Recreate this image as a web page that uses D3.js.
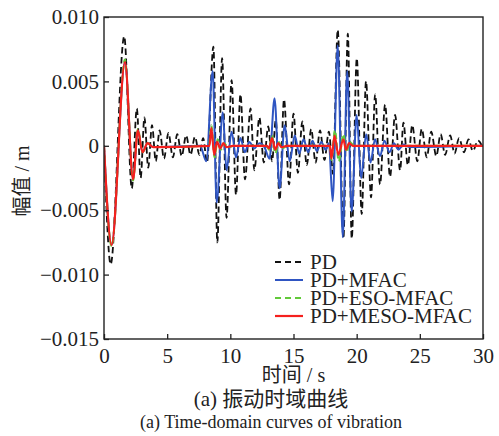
<!DOCTYPE html>
<html>
<head>
<meta charset="utf-8">
<script src="https://cdn.jsdelivr.net/npm/d3@7"></script>
<style>
  body { margin: 0; background: #fff; }
  svg text { font-family: "Liberation Serif", "Noto Sans CJK SC", serif; fill: #222; }
</style>
</head>
<body>
<svg id="chart" width="499" height="436"></svg>
<script>
// series names and tick labels
const seriesNames = ["PD", "PD+MFAC", "PD+ESO-MFAC", "PD+MESO-MFAC"];
const xTicks = [0, 5, 10, 15, 20, 25, 30];
const yTicks = [-0.015, -0.010, -0.005, 0, 0.005, 0.010];
const yTickLabels = ["\u22120.015", "\u22120.010", "\u22120.005", "0", "0.005", "0.010"];

// PD (read peak by peak off the picture)
const pdT = [0, 0.53, 1.6, 2.2, 2.6, 2.9, 3.2, 3.5, 3.8, 4.1, 4.4, 4.75, 5.1, 5.45, 5.8, 6.15, 6.5, 6.85, 7.2, 7.55, 7.85, 8.15,
  8.66, 8.97, 9.35, 9.7, 10.1, 10.45, 10.8, 11.16, 11.6, 11.9, 12.3, 12.65, 13.0, 13.3, 13.6, 13.9, 14.25, 14.65, 15.0, 15.35,
  15.7, 16.05, 16.4, 16.75, 17.1, 17.45, 17.8, 18.13, 18.5, 18.95, 19.3, 19.61, 20.01, 20.4, 20.74, 21.14, 21.46, 21.85, 22.25,
  22.64, 23.04, 23.44, 23.7, 24.05, 24.4, 24.8, 25.15, 25.55, 25.9, 26.3, 26.65, 27.0, 27.4, 27.75, 28.1, 28.5, 28.85, 29.2, 29.6, 30];
const pdV = [0, -0.0092, 0.0085, -0.0033, 0.0029, -0.0025, 0.0022, -0.0017, 0.0016, -0.0012, 0.0012, -0.0010, 0.0010, -0.0009, 0.0009, -0.0008, 0.0008, -0.0007, 0.0007, -0.0007, 0.0006, -0.0013,
  0.0077, -0.0075, 0.0068, -0.0056, 0.0051, -0.0038, 0.0040, -0.0026, 0.0029, -0.0019, 0.0022, -0.0013, 0.0015, -0.0012, 0.0020, -0.0042, 0.0036, -0.0030, 0.0025, -0.0021,
  0.0019, -0.0015, 0.0013, -0.0013, 0.0012, -0.0011, 0.0011, -0.0022, 0.0090, -0.0072, 0.0087, -0.0072, 0.0068, -0.0053, 0.0050, -0.0040, 0.0040, -0.0030, 0.0032,
  -0.0024, 0.0024, -0.0019, 0.0018, -0.0015, 0.0016, -0.0012, 0.0013, -0.0009, 0.0011, -0.0008, 0.0009, -0.0007, 0.0008, -0.0006, 0.0006, -0.0005, 0.0005, -0.0004, 0.0004, -0.0002];

// PD+MFAC
const mfacT = [0, 0.6, 1.66, 2.3, 2.68, 3.05, 3.45, 3.9, 7.6, 8.1, 8.6, 8.92, 9.4, 9.7, 10.1, 10.45, 10.8, 11.15, 11.5, 11.9, 12.3, 12.7,
  13.1, 13.5, 13.9, 14.3, 14.7, 15.1, 15.45, 15.8, 16.15, 16.5, 16.85, 17.2, 17.55, 17.8, 18.1, 18.5, 18.9, 19.25, 19.6, 20.0, 20.35,
  20.75, 21.1, 21.45, 21.85, 22.2, 22.6, 22.95, 23.3, 23.7, 24.2, 30];
const mfacV = [0, -0.0077, 0.0065, -0.0026, 0.0012, -0.0005, 0.0002, -0.0001, 0, -0.0012, 0.0058, -0.0044, 0.0026, -0.0019, 0.0011, -0.0009, 0.0006, -0.0005, 0.0003, -0.0002, 0.0002, -0.0001,
  -0.0010, 0.0037, -0.0033, 0.0016, -0.0012, 0.0008, -0.0006, 0.0005, -0.0005, 0.0004, -0.0004, 0.0003, -0.0003, 0.0002, -0.0043, 0.0078, -0.0071, 0.0058, -0.0051, 0.0024, -0.0025,
  0.0009, -0.0013, 0.0005, -0.0008, 0.0004, -0.0005, 0.0002, -0.0003, 0.0001, -0.0001, 0];

// PD+ESO-MFAC
const esoT = [0, 0.6, 1.66, 2.3, 2.68, 3.05, 3.45, 3.9, 8.3, 8.5, 8.75, 9.0, 9.25, 9.5, 9.8, 10.3, 12.9, 13.05, 13.3, 13.55, 13.85, 14.1, 14.5,
  17.85, 18.0, 18.28, 18.58, 18.95, 19.2, 19.45, 19.8, 30];
const esoV = [0, -0.0078, 0.0067, -0.0027, 0.0013, -0.0005, 0.0002, -0.0001, 0, 0.0016, -0.0009, 0.0005, -0.0003, 0.0002, -0.0001, 0, 0, -0.0003, 0.0008, -0.0006, 0.0003, -0.0002, 0,
  0, -0.0011, 0.0012, -0.0012, 0.0009, -0.0005, 0.0003, 0, 0];

// PD+MESO-MFAC
const mesoT = [0, 0.6, 1.66, 2.3, 2.68, 3.05, 3.45, 3.9, 8.35, 8.5, 8.72, 8.95, 9.2, 9.45, 9.7, 10.2, 12.9, 13.05, 13.3, 13.55, 13.8, 14.05, 14.5,
  17.88, 18.0, 18.25, 18.55, 18.95, 19.15, 19.4, 19.7, 30];
const mesoV = [0, -0.0077, 0.0065, -0.0026, 0.0012, -0.0005, 0.0002, -0.0001, 0, 0.0014, -0.0007, 0.0003, -0.0002, 0.0002, -0.0001, 0, 0, -0.0002, 0.0006, -0.0003, 0.0002, -0.0001, 0,
  0, -0.0010, 0.0008, -0.0007, 0.0005, -0.0003, 0.0002, 0, 0];

const svg = d3.select("#chart");
const mLeft = 104, mRight = 483, mTop = 17, mBottom = 339;

const x = d3.scaleLinear().domain([0, 30]).range([mLeft, mRight]);
const y = d3.scaleLinear().domain([-0.015, 0.010]).range([mBottom, mTop]);

// Curves, PD first, MESO-MFAC on top
const series = [
  { t: pdT, v: pdV, color: "#111", width: 1.8, dash: "6.5,3.5" },
  { t: mfacT, v: mfacV, color: "#2f55c2", width: 2, dash: null },
  { t: esoT, v: esoV, color: "#62c93a", width: 2, dash: "6,3.5" },
  { t: mesoT, v: mesoV, color: "#f5201e", width: 2.2, dash: null }
];

const line = d3.line()
  .x(d => x(d[0]))
  .y(d => y(d[1]))
  .curve(d3.curveMonotoneX);

svg.append("clipPath").attr("id", "clip")
  .append("rect").attr("x", mLeft).attr("y", mTop).attr("width", mRight - mLeft).attr("height", mBottom - mTop);

const plot = svg.append("g").attr("clip-path", "url(#clip)");
series.forEach(s => {
  plot.append("path")
    .datum(s.t.map((t, i) => [t, s.v[i]]))
    .attr("d", line)
    .attr("fill", "none")
    .attr("stroke", s.color)
    .attr("stroke-width", s.width)
    .attr("stroke-dasharray", s.dash)
    .attr("stroke-linejoin", "round");
});

// Axes, ticks pointing inward
svg.append("g")
  .attr("transform", `translate(0,${mBottom})`)
  .call(d3.axisBottom(x).tickValues(xTicks).tickSizeInner(-5).tickSizeOuter(0).tickPadding(9))
  .call(g => g.select(".domain").remove())
  .call(g => g.selectAll("line").attr("stroke", "#222").attr("stroke-width", 1.3))
  .call(g => g.selectAll("text").attr("font-size", 21).attr("font-family", "Liberation Serif").attr("fill", "#222"));

svg.append("g")
  .attr("transform", `translate(${mLeft},0)`)
  .call(d3.axisLeft(y).tickValues(yTicks).tickFormat((d, i) => yTickLabels[i]).tickSizeInner(-5).tickSizeOuter(0).tickPadding(5))
  .call(g => g.select(".domain").remove())
  .call(g => g.selectAll("line").attr("stroke", "#222").attr("stroke-width", 1.3))
  .call(g => g.selectAll("text").attr("font-size", 21).attr("font-family", "Liberation Serif").attr("fill", "#222"));

// frame
svg.append("rect")
  .attr("x", mLeft).attr("y", mTop)
  .attr("width", mRight - mLeft).attr("height", mBottom - mTop)
  .attr("fill", "none").attr("stroke", "#222").attr("stroke-width", 1.4);

// Legend
const leg = svg.append("g").attr("transform", "translate(275,262)");
series.forEach((s, i) => {
  leg.append("line")
    .attr("x1", 0).attr("x2", 28)
    .attr("y1", i * 18).attr("y2", i * 18)
    .attr("stroke", s.color)
    .attr("stroke-width", s.width)
    .attr("stroke-dasharray", s.dash ? "6,4" : null);
  leg.append("text")
    .attr("x", 35).attr("y", i * 18)
    .attr("dy", "0.35em")
    .attr("font-size", 21)
    .text(seriesNames[i]);
});

// Axis titles and caption
svg.append("text")
  .attr("x", (mLeft + mRight) / 2).attr("y", 382)
  .attr("text-anchor", "middle").attr("font-size", 20)
  .text("时间 / s");

svg.append("text")
  .attr("transform", "translate(29,181) rotate(-90)")
  .attr("text-anchor", "middle").attr("font-size", 20)
  .text("幅值 / m");

svg.append("text")
  .attr("x", 271).attr("y", 406)
  .attr("text-anchor", "middle").attr("font-size", 21)
  .text("(a) 振动时域曲线");

svg.append("text")
  .attr("x", 271).attr("y", 428)
  .attr("text-anchor", "middle").attr("font-size", 18)
  .text("(a) Time-domain curves of vibration");
</script>
</body>
</html>
